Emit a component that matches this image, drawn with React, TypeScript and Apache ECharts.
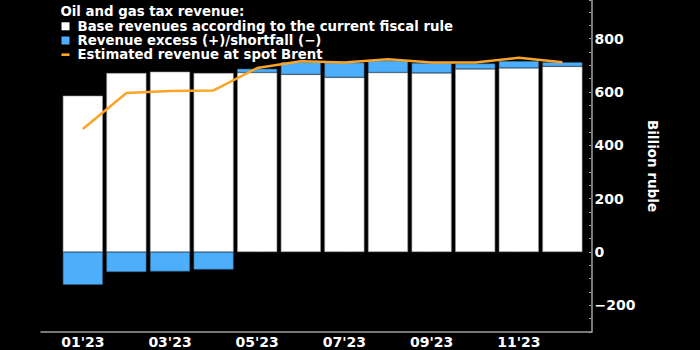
import React, { useEffect, useRef } from "react";
import * as echarts from "echarts";

const months = ["01'23", "02'23", "03'23", "04'23", "05'23", "06'23", "07'23", "08'23", "09'23", "10'23", "11'23", "12'23"];
const baseRevenue = [586, 671, 676, 671, 673, 666, 655, 673, 671, 686, 690, 696];
const excessRevenue = [-123, -75, -73, -66, 14, 46, 55, 45, 38, 21, 26, 16];
const spotBrent = [461, 596, 604, 606, 690, 715, 711, 723, 711, 711, 728, 712];
const seriesNames = [
  "Base revenues according to the current fiscal rule",
  "Revenue excess (+)/shortfall (\u2212)",
  "Estimated revenue at spot Brent",
];
const titleText = "Oil and gas tax revenue:";
const yAxisName = "Billion ruble";

const FONT = "DejaVu Sans";
const WHITE = "#ffffff";
const BLUE = "#4daefc";
const ORANGE = "#fca425";
const AXIS = "#a0a0a0";

export default function App() {
  const ref = useRef<HTMLDivElement>(null);
  useEffect(() => {
    if (!ref.current) return;
    const chart = echarts.init(ref.current, undefined, { renderer: "svg" });
    chart.setOption({
      animation: false,
      backgroundColor: "#000000",
      textStyle: { fontFamily: FONT },
      title: {
        text: titleText,
        left: 60.5,
        top: 4.5,
        padding: 0,
        textStyle: { color: WHITE, fontFamily: FONT, fontWeight: "bold", fontSize: 13.3 },
      },
      legend: {
        orient: "vertical",
        left: 61.5,
        top: 19.3,
        padding: 0,
        itemGap: 0.2,
        itemWidth: 8,
        itemHeight: 8,
        selectedMode: false,
        textStyle: {
          color: WHITE,
          fontFamily: FONT,
          fontWeight: "bold",
          fontSize: 13.3,
          lineHeight: 14,
          padding: [0, 0, 0, 3],
        },
        data: [
          { name: seriesNames[0], icon: "rect", itemStyle: { color: WHITE, borderWidth: 0 } },
          { name: seriesNames[1], icon: "rect", itemStyle: { color: BLUE, borderWidth: 0 } },
          { name: seriesNames[2], icon: "path://M0,0h9v3h-9z", itemStyle: { color: ORANGE } },
        ],
      },
      grid: [
        { left: 61, right: 115.8, top: 0, bottom: 18 },
        { left: 41, right: 108.5, top: 0, bottom: 18 },
      ],
      xAxis: [
        {
          type: "category",
          gridIndex: 0,
          data: months,
          axisLine: { show: false },
          axisTick: {
            show: true,
            inside: true,
            length: 3,
            alignWithLabel: true,
            interval: 1,
            lineStyle: { color: AXIS, width: 1 },
          },
          axisLabel: {
            interval: 1,
            color: WHITE,
            fontFamily: FONT,
            fontWeight: "bold",
            fontSize: 14,
            margin: 3,
          },
          splitLine: { show: false },
        },
        {
          type: "value",
          gridIndex: 1,
          min: 0,
          max: 1,
          axisLine: { show: true, lineStyle: { color: AXIS, width: 1.5 } },
          axisTick: { show: false },
          axisLabel: { show: false },
          splitLine: { show: false },
        },
      ],
      yAxis: [
        {
          type: "value",
          gridIndex: 0,
          position: "right",
          offset: 7.3,
          min: -300,
          max: 945,
          interval: 50,
          name: yAxisName,
          nameLocation: "middle",
          nameRotate: -90,
          nameGap: 50,
          nameTextStyle: { color: WHITE, fontFamily: FONT, fontWeight: "bold", fontSize: 13.5 },
          axisLine: { show: true, lineStyle: { color: AXIS, width: 1.5 } },
          axisTick: { show: true, inside: true, length: 2.5, lineStyle: { color: AXIS, width: 1 } },
          axisLabel: {
            color: WHITE,
            fontFamily: FONT,
            fontWeight: "bold",
            fontSize: 14,
            margin: 3,
            formatter: (v: number) => {
              if (v % 200 !== 0) return "";
              return v < 0 ? "\u2212" + Math.abs(v) : String(v);
            },
          },
          splitLine: { show: false },
        },
        { type: "value", gridIndex: 1, show: false, min: 0, max: 1 },
      ],
      series: [
        {
          name: seriesNames[0],
          type: "bar",
          stack: "rev",
          xAxisIndex: 0,
          yAxisIndex: 0,
          barWidth: 40,
          data: baseRevenue,
          itemStyle: { color: WHITE, borderColor: "#9a9a9a", borderWidth: 0.6 },
        },
        {
          name: seriesNames[1],
          type: "bar",
          stack: "rev",
          xAxisIndex: 0,
          yAxisIndex: 0,
          barWidth: 40,
          data: excessRevenue,
          itemStyle: { color: BLUE, borderColor: "#2c5f86", borderWidth: 0.6 },
        },
        {
          name: seriesNames[2],
          type: "line",
          xAxisIndex: 0,
          yAxisIndex: 0,
          data: spotBrent,
          symbol: "none",
          lineStyle: { color: ORANGE, width: 2.5 },
          itemStyle: { color: ORANGE },
          z: 5,
        },
      ],
    });
    return () => chart.dispose();
  }, []);
  return (
    <div
      ref={ref}
      style={{ position: "fixed", left: 0, top: 0, width: 700, height: 350, background: "#000" }}
    />
  );
}
